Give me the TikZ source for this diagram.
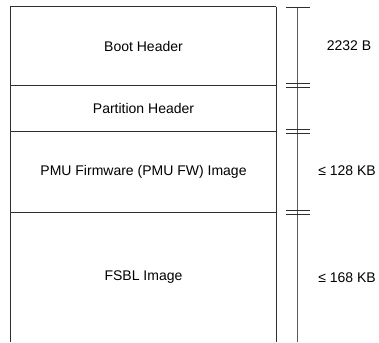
\documentclass[tikz,border=0pt]{standalone}
\usepackage{fontspec}
\setmainfont{Liberation Sans}
\usetikzlibrary{positioning}
\definecolor{boxline}{HTML}{2E2E2E}
\definecolor{dimline}{HTML}{5A5A5A}

\begin{document}
\begin{tikzpicture}[
    x=1pt, y=-1pt,
    every node/.style={font=\fontsize{14}{17}\selectfont},
    sect/.style={minimum width=265pt, inner sep=0pt, align=center},
    wall/.style={draw=boxline, line width=0.9pt},
    dimrule/.style={draw=dimline, line width=1.2pt},
    dimtick/.style={draw=boxline, line width=0.9pt}
]
\useasboundingbox (0,0) rectangle (379,342);

% sections of the image
\node[sect, minimum height=78pt]  (boot) at (143.5, 46)  {Boot Header};
\node[sect, minimum height=46pt]  (part) at (143.5, 108) {Partition Header};
\node[sect, minimum height=81pt]  (pmu)  at (143.5, 171.5) {PMU Firmware (PMU FW) Image};
\node[sect, minimum height=130pt] (fsbl) at (143.5, 277) {FSBL Image};

\draw[wall] (boot.north east) -- (boot.north west) -- (fsbl.south west);
\draw[wall] (boot.north east) -- (fsbl.south east);
\draw[wall] (boot.south west) -- (boot.south east);
\draw[wall] (part.south west) -- (part.south east);
\draw[wall] (pmu.south west)  -- (pmu.south east);

% size rule
\coordinate (dtop) at (297.5, 7);
\coordinate (dbot) at (297.5, 342);
\draw[dimrule] (dtop) -- (dbot);
\draw[dimtick] (dtop) ++(-11.5,0) -- ++(24,0);
\draw[dimtick] (boot.south -| dtop) ++(-11.5,-1.8) -- ++(24,0);
\draw[dimtick] (boot.south -| dtop) ++(-11.5,1.8) -- ++(24,0);
\draw[dimtick] (part.south -| dtop) ++(-11.5,-1.8) -- ++(24,0);
\draw[dimtick] (part.south -| dtop) ++(-11.5,1.8) -- ++(24,0);
\draw[dimtick] (pmu.south -| dtop) ++(-11.5,-1.8) -- ++(24,0);
\draw[dimtick] (pmu.south -| dtop) ++(-11.5,1.8) -- ++(24,0);

% sizes
\node (bootsz) at (349, 46)  {2232 B};
\node (pmusz)  at (347, 171) {≤ 128 KB};
\node (fsblsz) at (347, 278) {≤ 168 KB};

\end{tikzpicture}
\end{document}
